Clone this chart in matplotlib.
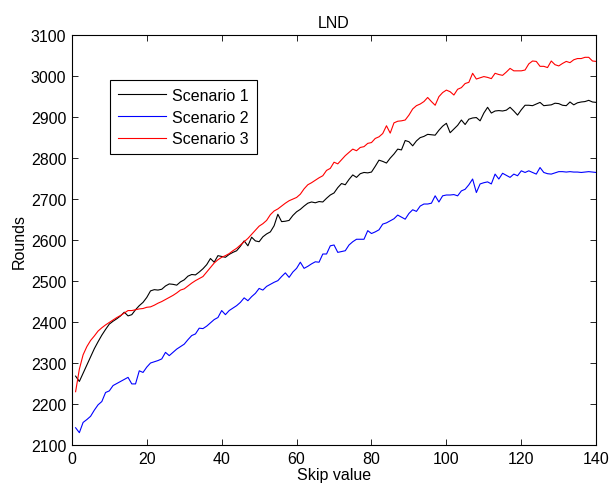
import matplotlib
matplotlib.use("Agg")
import matplotlib.pyplot as plt

plt.rcParams['font.family'] = ['Liberation Sans', 'DejaVu Sans']

x = list(range(1, 141))

scenario1 = [
    2268, 2255, 2275, 2295, 2315, 2335, 2352, 2368, 2382, 2395,
    2402, 2408, 2415, 2424, 2415, 2418, 2430, 2440, 2448, 2460,
    2476, 2479, 2478, 2480, 2488, 2493, 2492, 2490, 2498, 2503,
    2512, 2516, 2515, 2522, 2530, 2540, 2555, 2546, 2562, 2560,
    2558, 2565, 2570, 2574, 2585, 2598, 2586, 2607, 2598, 2596,
    2608, 2615, 2620, 2635, 2663, 2645, 2646, 2648, 2660, 2669,
    2675, 2683, 2690, 2693, 2691, 2694, 2693, 2702, 2710, 2715,
    2728, 2738, 2735, 2748, 2759, 2753, 2762, 2765, 2764, 2766,
    2780, 2795, 2792, 2788, 2800, 2810, 2822, 2820, 2843, 2840,
    2830, 2842, 2850, 2853, 2858, 2857, 2856, 2868, 2878, 2885,
    2862, 2871, 2880, 2893, 2882, 2895, 2898, 2899, 2891, 2910,
    2924, 2910, 2915, 2916, 2915, 2917, 2924, 2915, 2905, 2918,
    2929, 2929, 2928, 2932, 2936, 2928, 2929, 2930, 2934, 2933,
    2929, 2928, 2937, 2930, 2935, 2937, 2938, 2941, 2937, 2936,
]

scenario2 = [
    2142, 2130, 2155, 2162, 2170, 2185, 2198, 2206, 2228, 2232,
    2245, 2250, 2255, 2260, 2265, 2249, 2249, 2281, 2277, 2290,
    2300, 2303, 2306, 2310, 2326, 2318, 2326, 2334, 2340, 2346,
    2357, 2367, 2371, 2385, 2384, 2390, 2398, 2406, 2411, 2428,
    2418, 2428, 2434, 2440, 2448, 2459, 2452, 2462, 2470, 2482,
    2478, 2487, 2492, 2497, 2501, 2511, 2520, 2509, 2522, 2531,
    2546, 2531, 2536, 2542, 2547, 2546, 2566, 2566, 2586, 2588,
    2570, 2572, 2574, 2588, 2596, 2602, 2602, 2602, 2623, 2616,
    2620, 2625, 2639, 2642, 2647, 2652, 2661, 2656, 2651, 2665,
    2674, 2670, 2683, 2688, 2688, 2690, 2708, 2693, 2708, 2710,
    2710, 2711, 2708, 2720, 2724, 2735, 2749, 2716, 2737, 2740,
    2742, 2737, 2761, 2749, 2763, 2758, 2753, 2761, 2757, 2769,
    2765, 2769, 2765, 2761, 2777, 2765, 2762, 2761, 2764, 2767,
    2767, 2766, 2767, 2766, 2766, 2765, 2766, 2767, 2766, 2765,
]

scenario3 = [
    2230, 2285, 2320, 2340, 2355, 2366, 2378, 2386, 2393, 2399,
    2405, 2411, 2416, 2422, 2428, 2428, 2430, 2432, 2433, 2436,
    2437, 2441, 2446, 2450, 2455, 2460, 2465, 2471, 2478, 2481,
    2488, 2495, 2501, 2506, 2511, 2522, 2533, 2544, 2552, 2558,
    2562, 2567, 2574, 2580, 2588, 2596, 2604, 2614, 2624, 2634,
    2640, 2648, 2662, 2671, 2676, 2683, 2690, 2696, 2700, 2704,
    2712, 2725, 2735, 2740, 2746, 2752, 2757, 2770, 2775, 2790,
    2786, 2796, 2806, 2814, 2822, 2818, 2826, 2828, 2836, 2838,
    2848, 2852, 2860, 2879, 2861, 2886, 2890, 2891, 2893, 2905,
    2920, 2928, 2932, 2938, 2948, 2938, 2929, 2950, 2960, 2966,
    2962, 2954, 2968, 2972, 2982, 2985, 3007, 2993, 2996, 2999,
    2997, 2994, 3007, 3004, 3002, 3010, 3019, 3013, 3013, 3013,
    3015, 3030, 3037, 3036, 3024, 3024, 3021, 3037, 3028, 3025,
    3031, 3036, 3033, 3040, 3043, 3043, 3046, 3046, 3037, 3036,
]

labels = ["Scenario 1", "Scenario 2", "Scenario 3"]
colors = ["black", "blue", "red"]

fs = 11.5
fig = plt.figure(figsize=(6.09, 4.89), dpi=100)
ax = fig.add_axes([0.118, 0.088, 0.861, 0.838])

for ys, lab, c in zip([scenario1, scenario2, scenario3], labels, colors):
    ax.plot(x, ys, color=c, linewidth=0.8, label=lab)

ax.set_xlim(0, 140)
ax.set_ylim(2100, 3100)
ax.set_xticks(range(0, 141, 20))
ax.set_yticks(range(2100, 3101, 100))
ax.tick_params(direction='in', top=True, right=True, labelsize=fs, length=4, width=0.6, pad=4)
for s in ax.spines.values():
    s.set_linewidth(0.8)
ax.set_xlabel("Skip value", fontsize=fs, labelpad=1)
ax.set_ylabel("Rounds", fontsize=fs, labelpad=3)
ax.set_title("LND", fontsize=fs, pad=6)

leg = ax.legend(loc='upper left', bbox_to_anchor=(0.072, 0.891), fontsize=fs,
                frameon=True, fancybox=False, edgecolor='black', framealpha=1,
                borderaxespad=0, handlelength=3.0, handletextpad=0.4,
                labelspacing=0.42, borderpad=0.5)
leg.get_frame().set_linewidth(0.8)

fig.savefig("out.png", dpi=100)
